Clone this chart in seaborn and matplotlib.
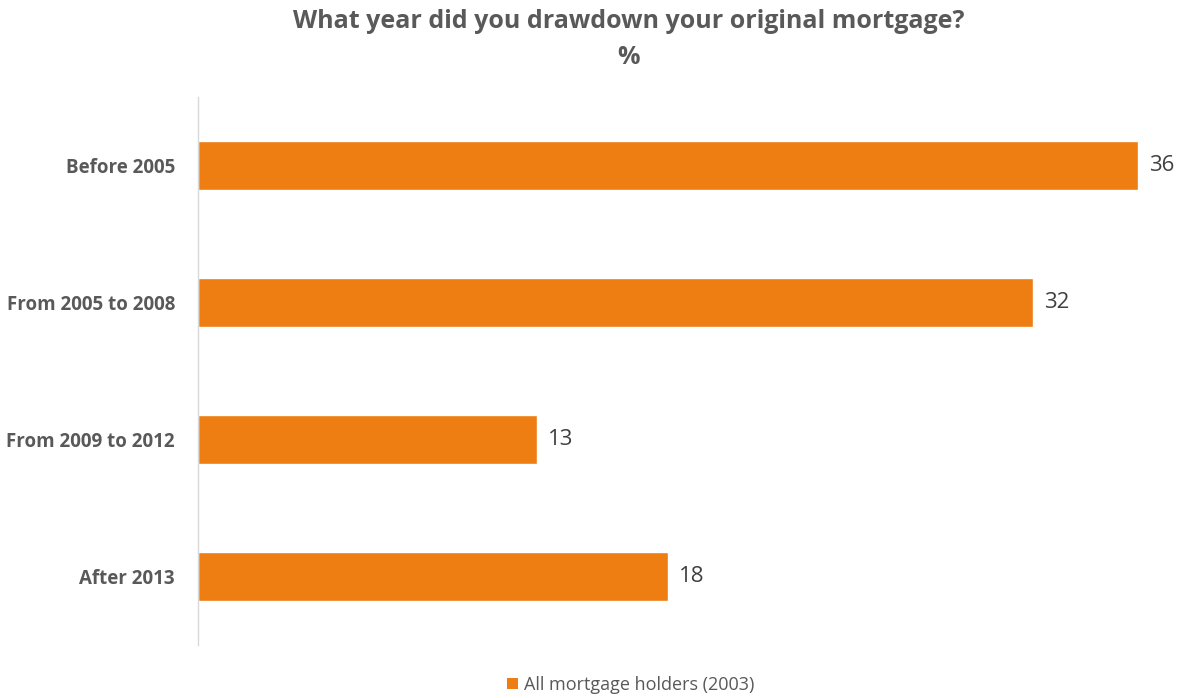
import matplotlib
matplotlib.use('Agg')
import matplotlib.pyplot as plt
import seaborn as sns
import pandas as pd
from matplotlib.patches import Patch

categories = ['Before 2005', 'From 2005 to 2008', 'From 2009 to 2012', 'After 2013']
values = [36, 32, 13, 18]
series_name = 'All mortgage holders (2003)'

sns.set_style('white')
plt.rcParams['font.family'] = ['Open Sans', 'DejaVu Sans']

orange = '#EE7D12'
grey = '#595959'

df = pd.DataFrame({'category': categories, 'value': values})

fig = plt.figure(figsize=(11.81, 6.98), dpi=100)
ax = fig.add_axes([198 / 1181, 1 - 645 / 698, 966 / 1181, 548 / 698])

sns.barplot(data=df, x='value', y='category', orient='h', color=orange,
            width=0.36, saturation=1, ax=ax)

for i, v in enumerate(values):
    ax.text(v + 0.42, i, str(v), va='center', ha='left', fontsize=16, color='#404040')

ax.set_xlim(0, 37)
ax.set_ylim(3.5, -0.5)
ax.set_xlabel('')
ax.set_ylabel('')
ax.set_xticks([])
for s in ['top', 'right', 'bottom']:
    ax.spines[s].set_visible(False)
ax.spines['left'].set_color('#D9D9D9')
ax.spines['left'].set_linewidth(1)
ax.tick_params(axis='y', length=0, pad=16.5, labelsize=13.5, labelcolor=grey)
for lbl in ax.get_yticklabels():
    lbl.set_fontweight('bold')

fig.text(0.532, 1 - 22 / 698, 'What year did you drawdown your original mortgage?',
         ha='center', va='center', fontsize=18, fontweight='bold', color=grey)
fig.text(0.532, 1 - 57 / 698, '%', ha='center', va='center', fontsize=18,
         fontweight='bold', color=grey)

handle = Patch(facecolor=orange, edgecolor='none')
fig.legend([handle], [series_name], loc='center', bbox_to_anchor=(0.534, 1 - 685 / 698),
           frameon=False, fontsize=13, handlelength=0.6, handleheight=0.6,
           handletextpad=0.3, labelcolor=grey)

fig.savefig('out.png', dpi=100)
